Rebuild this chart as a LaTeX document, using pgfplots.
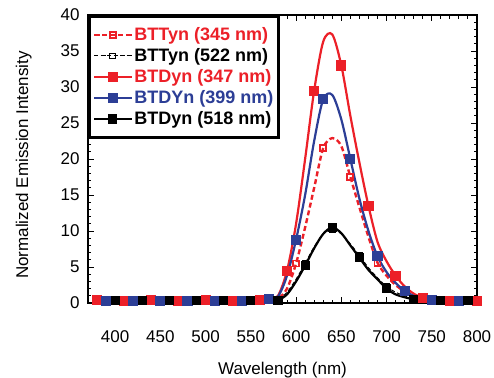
\documentclass[border=0pt]{standalone}
\usepackage{pgfplots}
\pgfplotsset{compat=1.18}
\usepackage{pgfplotstable}
\usepackage{fontspec}
\setmainfont{Liberation Sans}
\definecolor{cred}{RGB}{236,32,40}
\definecolor{cblue}{RGB}{44,62,150}

% BTTyn (345 nm)
\pgfplotstableread{
x y
380 0.3
390 0.4
400 0.3
410 0.5
420 0.3
430 0.4
440 0.3
450 0.4
460 0.5
470 0.3
480 0.4
490 0.3
500 0.4
510 0.3
520 0.5
530 0.4
540 0.3
550 0.4
560 0.4
570 0.5
580 0.6
590 2.0
600 5.5
610 10.5
620 16.0
630 21.5
640 22.9
650 21.8
660 17.5
670 13.3
680 9.2
690 5.6
700 3.8
710 2.5
720 1.6
730 0.9
740 0.6
750 0.4
760 0.3
770 0.3
780 0.4
790 0.3
800 0.3
}\tblA
% BTTyn (522 nm)
\pgfplotstableread{
x y
380 0.3
390 0.3
400 0.4
410 0.3
420 0.3
430 0.4
440 0.3
450 0.3
460 0.4
470 0.3
480 0.3
490 0.4
500 0.3
510 0.3
520 0.4
530 0.3
540 0.3
550 0.4
560 0.3
570 0.4
580 0.5
590 1.5
600 3.3
610 5.5
620 7.8
630 9.6
640 10.2
650 9.6
660 8.2
670 6.6
680 4.9
690 3.5
700 2.3
710 1.5
720 1.0
730 0.6
740 0.4
750 0.3
760 0.3
770 0.4
780 0.3
790 0.3
800 0.3
}\tblB
% BTDyn (347 nm)
\pgfplotstableread{
x y
380 0.4
390 0.3
400 0.4
410 0.3
420 0.5
430 0.3
440 0.4
450 0.3
460 0.4
470 0.3
480 0.5
490 0.3
500 0.4
510 0.3
520 0.4
530 0.3
540 0.4
550 0.3
560 0.4
570 0.6
580 1.0
590 4.5
600 11.0
610 20.0
620 29.5
630 36.3
640 37.3
650 33.0
660 26.0
670 19.5
680 13.5
690 8.5
700 5.8
710 3.8
720 2.3
730 1.3
740 0.7
750 0.4
760 0.3
770 0.3
780 0.3
790 0.4
800 0.3
}\tblC
% BTDYn (399 nm)
\pgfplotstableread{
x y
380 0.3
390 0.3
400 0.3
410 0.4
420 0.3
430 0.3
440 0.4
450 0.3
460 0.3
470 0.4
480 0.3
490 0.3
500 0.4
510 0.3
520 0.3
530 0.4
540 0.3
550 0.3
560 0.4
570 0.6
580 0.9
590 3.8
600 8.8
610 15.0
620 22.5
630 28.3
640 28.9
650 25.5
660 20.0
670 14.5
680 10.0
690 6.5
700 4.3
710 2.8
720 1.7
730 1.0
740 0.6
750 0.4
760 0.3
770 0.3
780 0.3
790 0.2
800 0.3
}\tblD
% BTDyn (518 nm)
\pgfplotstableread{
x y
380 0.3
390 0.3
400 0.3
410 0.3
420 0.3
430 0.3
440 0.3
450 0.3
460 0.3
470 0.3
480 0.3
490 0.3
500 0.3
510 0.3
520 0.3
530 0.3
540 0.3
550 0.3
560 0.3
570 0.3
580 0.4
590 1.2
600 3.0
610 5.2
620 7.6
630 9.6
640 10.5
650 9.7
660 8.0
670 6.3
680 4.6
690 3.3
700 2.0
710 1.2
720 0.8
730 0.5
740 0.3
750 0.3
760 0.3
770 0.3
780 0.3
790 0.3
800 0.3
}\tblE

\begin{document}
\begin{tikzpicture}
\begin{axis}[
  scale only axis,
  width=389pt, height=288pt,
  xmin=370, xmax=800, ymin=0, ymax=40,
  xtick={400,450,...,800}, ytick={0,5,...,40},
  minor x tick num=4, minor y tick num=4,
  tick align=inside,
  major tick length=6pt, minor tick length=3.5pt,
  axis line style={line width=1.6pt},
  every tick/.style={black, line width=1pt},
  /pgf/number format/assume math mode=true,
  /pgf/number format/1000 sep={},
  tick label style={font=\fontsize{17}{20}\selectfont},
  xticklabel style={yshift=-24pt},
  yticklabel style={xshift=-5pt},
  xlabel={Wavelength (nm)},
  ylabel={Normalized Emission Intensity},
  label style={font=\fontsize{17}{20}\selectfont},
  xlabel style={yshift=-13pt},
  ylabel style={yshift=22pt, xshift=-6pt},
  legend cell align=left,
  legend style={at={(0,1)}, anchor=north west, draw=black, line width=3pt,
    font=\bfseries\fontsize{18}{21}\selectfont, row sep=2.5pt, inner xsep=3.5pt, inner ysep=9pt},
  legend image code/.code={\draw[mark repeat=2,mark phase=2,#1] plot coordinates {(0cm,0cm) (0.65cm,0cm) (1.3cm,0cm)};},
]
\addplot[cred, line width=2.4pt, dash pattern=on 5pt off 3pt, smooth,
  mark=square, mark size=3pt, mark repeat=3, mark phase=2,
  mark options={solid, line width=1.8pt, fill=white}] table {\tblA};
\addlegendentry{\textcolor{cred}{BTTyn (345 nm)}\hspace{20pt}}
\addplot[black, line width=1pt, dash pattern=on 4pt off 2.5pt, smooth,
  mark=square, mark size=2.8pt, mark repeat=3, mark phase=3,
  mark options={solid, line width=0.8pt}] table {\tblB};
\addlegendentry{\textcolor{black}{BTTyn (522 nm)}}
\addplot[cred, line width=2.2pt, smooth,
  mark=square*, mark size=4pt, mark repeat=3, mark phase=1] table {\tblC};
\addlegendentry{\textcolor{cred}{BTDyn (347 nm)}}
\addplot[cblue, line width=2.2pt, smooth,
  mark=square*, mark size=4pt, mark repeat=3, mark phase=2] table {\tblD};
\addlegendentry{\textcolor{cblue}{BTDYn (399 nm)}}
\addplot[black, line width=2.2pt, smooth,
  mark=square*, mark size=3.5pt, mark repeat=3, mark phase=3] table {\tblE};
\addlegendentry{\textcolor{black}{BTDyn (518 nm)}}
\end{axis}
\pgfresetboundingbox
\path ([xshift=-88pt,yshift=-74pt]current axis.south west) rectangle ([xshift=17pt,yshift=15pt]current axis.north east);
\end{tikzpicture}
\end{document}
